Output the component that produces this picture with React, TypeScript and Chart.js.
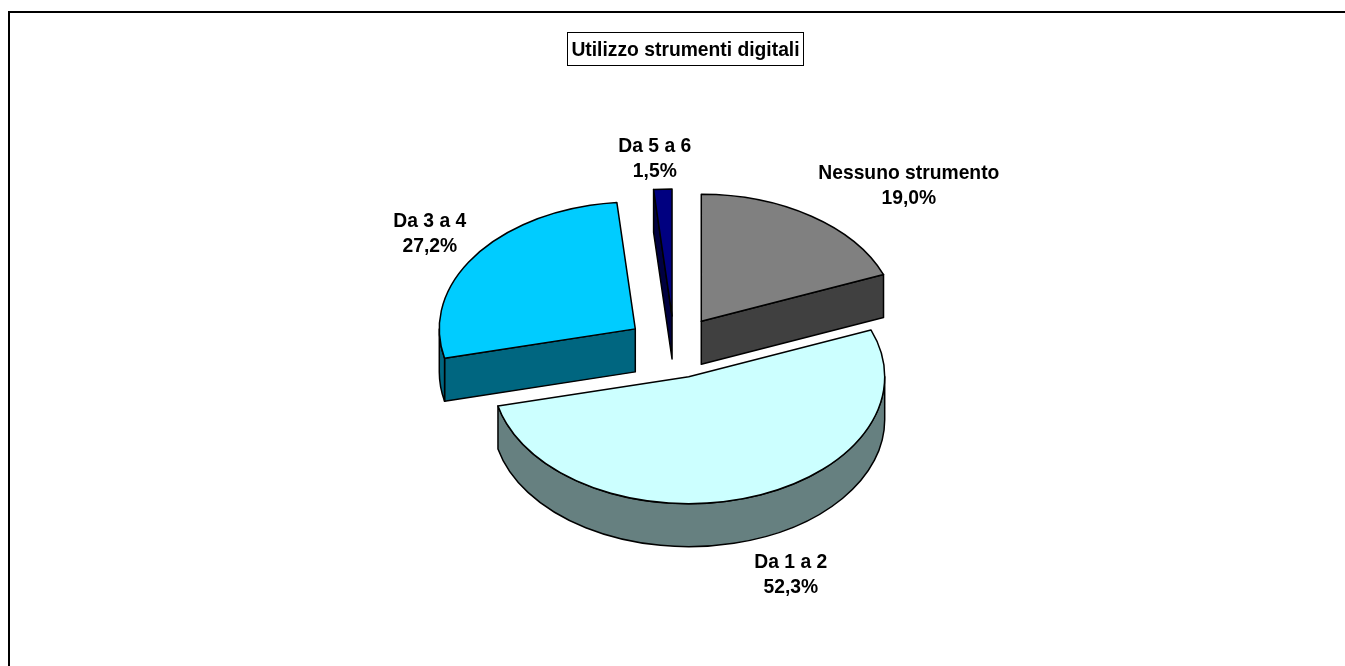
import React, { useEffect, useRef } from "react";
import { Chart, registerables } from "chart.js";

Chart.register(...registerables);

const TITLE = "Utilizzo strumenti digitali";
const categories = ["Nessuno strumento", "Da 1 a 2", "Da 3 a 4", "Da 5 a 6"];
const shares = [19.0, 52.3, 27.2, 1.5];
const topColors = ["#808080", "#CCFFFF", "#00CCFF", "#000080"];
const sideColors = ["#404040", "#668080", "#006680", "#000040"];
// label centre, relative to the pie centre, for each slice
const labelShift = [
  [234.5, -160.5],
  [116.5, 228.5],
  [-244.5, -112.5],
  [-19.5, -187.5],
];

const RADIUS = 196;
const TILT = 0.648;
const DEPTH = 43;
const EXPLODE = 48;
const CX = 674.3;
const CY = 347;
const FONT = "bold 19.3px 'Liberation Sans', Arial, sans-serif";

const pie3d = {
  id: "pie3d",
  beforeDatasetDraw(chart: any) {
    const ctx: CanvasRenderingContext2D = chart.ctx;
    const arcs = chart.getDatasetMeta(0).data;
    // chart frame
    ctx.save();
    ctx.strokeStyle = "#000";
    ctx.lineWidth = 2;
    ctx.beginPath();
    ctx.moveTo(9, 666);
    ctx.lineTo(9, 12);
    ctx.lineTo(1345, 12);
    ctx.stroke();
    ctx.restore();

    const order = [0, 3, 2, 1];
    order.forEach((i) => {
      const arc = arcs[i];
      const { x, y, startAngle, endAngle, outerRadius } = arc.getProps(
        ["x", "y", "startAngle", "endAngle", "outerRadius"],
        true
      );
      const r = outerRadius;
      const mid = (startAngle + endAngle) / 2;
      const ox = x + Math.cos(mid) * EXPLODE;
      const oy = y + Math.sin(mid) * EXPLODE * TILT;
      const px = (a: number) => ox + Math.cos(a) * r;
      const py = (a: number) => oy + Math.sin(a) * r * TILT;
      ctx.save();
      ctx.lineWidth = 1.5;
      ctx.strokeStyle = "#000";
      ctx.lineJoin = "round";
      ctx.fillStyle = sideColors[i];
      // cut faces that look towards the viewer
      const quad = (a: number) => {
        ctx.beginPath();
        ctx.moveTo(ox, oy);
        ctx.lineTo(px(a), py(a));
        ctx.lineTo(px(a), py(a) + DEPTH);
        ctx.lineTo(ox, oy + DEPTH);
        ctx.closePath();
        ctx.fill();
        ctx.stroke();
      };
      if (Math.cos(startAngle) < -1e-6) quad(startAngle);
      if (Math.cos(endAngle) > 1e-6) quad(endAngle);
      // outer wall: the part of the rim in the lower half of the ellipse
      for (const k of [0, 2]) {
        const lo = Math.max(startAngle, k * Math.PI);
        const hi = Math.min(endAngle, (k + 1) * Math.PI);
        if (hi > lo) {
          ctx.beginPath();
          ctx.ellipse(ox, oy, r, r * TILT, 0, lo, hi);
          ctx.lineTo(px(hi), py(hi) + DEPTH);
          ctx.ellipse(ox, oy + DEPTH, r, r * TILT, 0, hi, lo, true);
          ctx.closePath();
          ctx.fill();
          ctx.stroke();
        }
      }
      // top face
      ctx.fillStyle = topColors[i];
      ctx.beginPath();
      ctx.moveTo(ox, oy);
      ctx.ellipse(ox, oy, r, r * TILT, 0, startAngle, endAngle);
      ctx.closePath();
      ctx.fill();
      ctx.stroke();
      ctx.restore();
    });
    return false;
  },
  afterDraw(chart: any) {
    const ctx: CanvasRenderingContext2D = chart.ctx;
    ctx.save();
    ctx.font = FONT;
    ctx.fillStyle = "#000";
    ctx.textAlign = "center";
    ctx.textBaseline = "middle";
    categories.forEach((c, i) => {
      const [dx, dy] = labelShift[i];
      ctx.fillText(c, CX + dx, CY + dy - 12.5);
      ctx.fillText(shares[i].toFixed(1).replace(".", ",") + "%", CX + dx, CY + dy + 12.5);
    });
    ctx.fillText(TITLE, 685.5, 51);
    ctx.strokeStyle = "#000";
    ctx.lineWidth = 1;
    ctx.strokeRect(567.5, 32.5, 236, 33);
    ctx.restore();
  },
};

export default function App() {
  const ref = useRef<HTMLCanvasElement>(null);
  useEffect(() => {
    const chart = new Chart(ref.current!, {
      type: "pie",
      data: {
        labels: categories,
        datasets: [{ data: shares, backgroundColor: topColors, borderColor: "#000", borderWidth: 1 }],
      },
      options: {
        responsive: false,
        animation: false,
        radius: RADIUS,
        layout: {
          padding: { left: 2 * (CX - 672.5), right: 0, top: 2 * (CY - 333), bottom: 0 },
        },
        plugins: { legend: { display: false }, title: { display: false }, tooltip: { enabled: false } },
      } as any,
      plugins: [pie3d],
    });
    return () => chart.destroy();
  }, []);
  return (
    <div style={{ position: "absolute", left: 0, top: 0 }}>
      <canvas ref={ref} width={1345} height={666} style={{ display: "block" }} />
    </div>
  );
}
